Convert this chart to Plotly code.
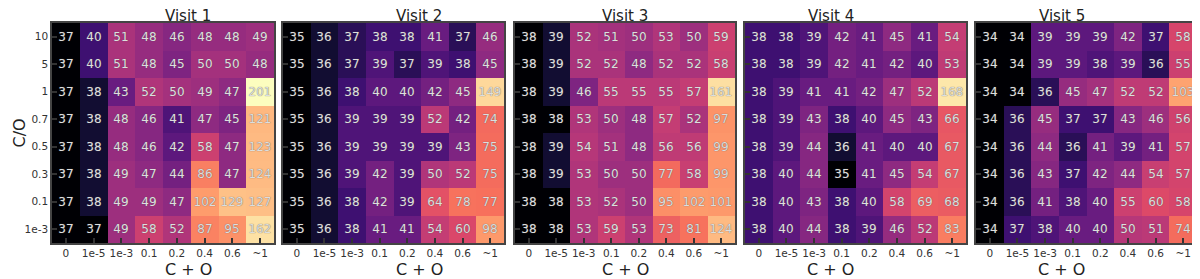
import numpy as np
import plotly.graph_objects as go

x_labels = ["0", "1e-5", "1e-3", "0.1", "0.2", "0.4", "0.6", "~1"]
y_labels = ["10", "5", "1", "0.7", "0.5", "0.3", "0.1", "1e-3"]  # top to bottom
titles = ["Visit 1", "Visit 2", "Visit 3", "Visit 4", "Visit 5"]

visit1 = [
    [37, 40, 51, 48, 46, 48, 48, 49],
    [37, 40, 51, 48, 45, 50, 50, 48],
    [37, 38, 43, 52, 50, 49, 47, 201],
    [37, 38, 48, 46, 41, 47, 45, 121],
    [37, 38, 48, 46, 42, 58, 47, 123],
    [37, 38, 49, 47, 44, 86, 47, 124],
    [37, 38, 49, 49, 47, 102, 129, 127],
    [37, 37, 49, 58, 52, 87, 95, 162],
]
visit2 = [
    [35, 36, 37, 38, 38, 41, 37, 46],
    [35, 36, 37, 39, 37, 39, 38, 45],
    [35, 36, 38, 40, 40, 42, 45, 149],
    [35, 36, 39, 39, 39, 52, 42, 74],
    [35, 36, 39, 39, 39, 39, 43, 75],
    [35, 36, 39, 42, 39, 50, 52, 75],
    [35, 36, 38, 42, 39, 64, 78, 77],
    [35, 36, 38, 41, 41, 54, 60, 98],
]
visit3 = [
    [38, 39, 52, 51, 50, 53, 50, 59],
    [38, 39, 52, 52, 48, 52, 52, 58],
    [38, 39, 46, 55, 55, 55, 57, 161],
    [38, 38, 53, 50, 48, 57, 52, 97],
    [38, 39, 54, 51, 48, 56, 56, 99],
    [38, 39, 53, 50, 50, 77, 58, 99],
    [38, 38, 53, 52, 50, 95, 102, 101],
    [38, 38, 53, 59, 53, 73, 81, 124],
]
visit4 = [
    [38, 38, 39, 42, 41, 45, 41, 54],
    [38, 38, 39, 42, 41, 42, 40, 53],
    [38, 39, 41, 41, 42, 47, 52, 168],
    [38, 39, 43, 38, 40, 45, 43, 66],
    [38, 39, 44, 36, 41, 40, 40, 67],
    [38, 40, 44, 35, 41, 45, 54, 67],
    [38, 40, 43, 38, 40, 58, 69, 68],
    [38, 40, 44, 38, 39, 46, 52, 83],
]
visit5 = [
    [34, 34, 39, 39, 39, 42, 37, 58],
    [34, 34, 39, 39, 38, 39, 36, 55],
    [34, 34, 36, 45, 47, 52, 52, 103],
    [34, 36, 45, 37, 37, 43, 46, 56],
    [34, 36, 44, 36, 41, 39, 41, 57],
    [34, 36, 43, 37, 42, 44, 54, 57],
    [34, 36, 41, 38, 40, 55, 60, 58],
    [34, 37, 38, 40, 40, 50, 51, 74],
]
visits = [visit1, visit2, visit3, visit4, visit5]

magma = [
    [0.0, "#000004"], [0.1, "#140e36"], [0.2, "#3b0f70"], [0.3, "#641a80"],
    [0.4, "#8c2981"], [0.5, "#b73779"], [0.6, "#de4968"], [0.7, "#f7705c"],
    [0.8, "#fe9f6d"], [0.9, "#fecf92"], [1.0, "#fcfdbf"],
]

# colour mapping: log of excess over each panel's minimum, common range
SCALE = 2.0
excess_max = max(np.max(v) - np.min(v) for v in visits)
zmax = np.log1p(excess_max / SCALE)

# page body has an 8px margin at left/top; figure fills the rest of the window
OFF = 8
W, H = 1200 - OFF, 279 - OFF
panels_px = [(52, 274), (283, 504), (515, 735), (745, 966), (976, 1197)]
top_px, bot_px = 23, 243

fig = go.Figure()
xs = list(range(len(x_labels)))
ys = list(range(len(y_labels)))
FONT = "DejaVu Sans"

for i, (vals, title) in enumerate(zip(visits, titles)):
    arr = np.array(vals, dtype=float)
    zc = np.log1p((arr - arr.min()) / SCALE)
    xa = "x" if i == 0 else f"x{i+1}"
    ya = "y" if i == 0 else f"y{i+1}"
    fig.add_trace(go.Heatmap(
        z=zc, x=xs, y=ys, text=np.array(vals).astype(str),
        texttemplate="%{text}",
        textfont=dict(family=FONT, size=12, color="#dedede",
                      shadow="0px 0px 1px #555555"),
        colorscale=magma, zmin=0, zmax=zmax, showscale=False,
        xaxis=xa, yaxis=ya, hoverinfo="skip",
    ))
    x0, x1 = panels_px[i]
    x0 -= OFF
    x1 -= OFF
    xkey = "xaxis" if i == 0 else f"xaxis{i+1}"
    ykey = "yaxis" if i == 0 else f"yaxis{i+1}"
    fig.layout[xkey] = dict(
        domain=[x0 / W, min(x1 / W, 1.0)], anchor=ya,
        tickmode="array", tickvals=xs, ticktext=x_labels,
        ticks="inside", ticklen=5, tickwidth=1.5, tickcolor="#333",
        showline=True, mirror=True, linecolor="#444", linewidth=1.5,
        showgrid=False, zeroline=False, range=[-0.5, 7.5],
        tickfont=dict(family=FONT, size=10.5, color="#333"),
        fixedrange=True,
    )
    fig.layout[ykey] = dict(
        anchor=xa, domain=[0, 1],
        tickmode="array", tickvals=ys, ticktext=y_labels if i == 0 else [""] * 8,
        showticklabels=(i == 0),
        ticks="inside", ticklen=5, tickwidth=1.5, tickcolor="#333",
        showline=True, mirror=True, linecolor="#444", linewidth=1.5,
        showgrid=False, zeroline=False, range=[7.5, -0.5],
        tickfont=dict(family=FONT, size=10.5, color="#333"),
        fixedrange=True,
    )
    cx = (x0 + x1) / 2 / W
    fig.add_annotation(x=cx, y=1, xref="paper", yref="paper", text=title,
                       showarrow=False, yanchor="middle",
                       yshift=(top_px - OFF) - 8,
                       font=dict(family=FONT, size=15, color="#222"))
    fig.add_annotation(x=cx, y=0, xref="paper", yref="paper", text="C + O",
                       showarrow=False, yanchor="top", yshift=-15,
                       font=dict(family=FONT, size=16, color="#222"))

fig.add_annotation(x=10.5 / W, y=0.5, xref="paper", yref="paper", text="C/O",
                   showarrow=False, textangle=-90, xanchor="center",
                   font=dict(family=FONT, size=16, color="#222"))

fig.update_layout(
    width=W, height=H,
    margin=dict(l=0, r=0, t=top_px - OFF, b=H - (bot_px - OFF)),
    paper_bgcolor="white", plot_bgcolor="white",
    showlegend=False,
)

fig.write_html("out.html")
